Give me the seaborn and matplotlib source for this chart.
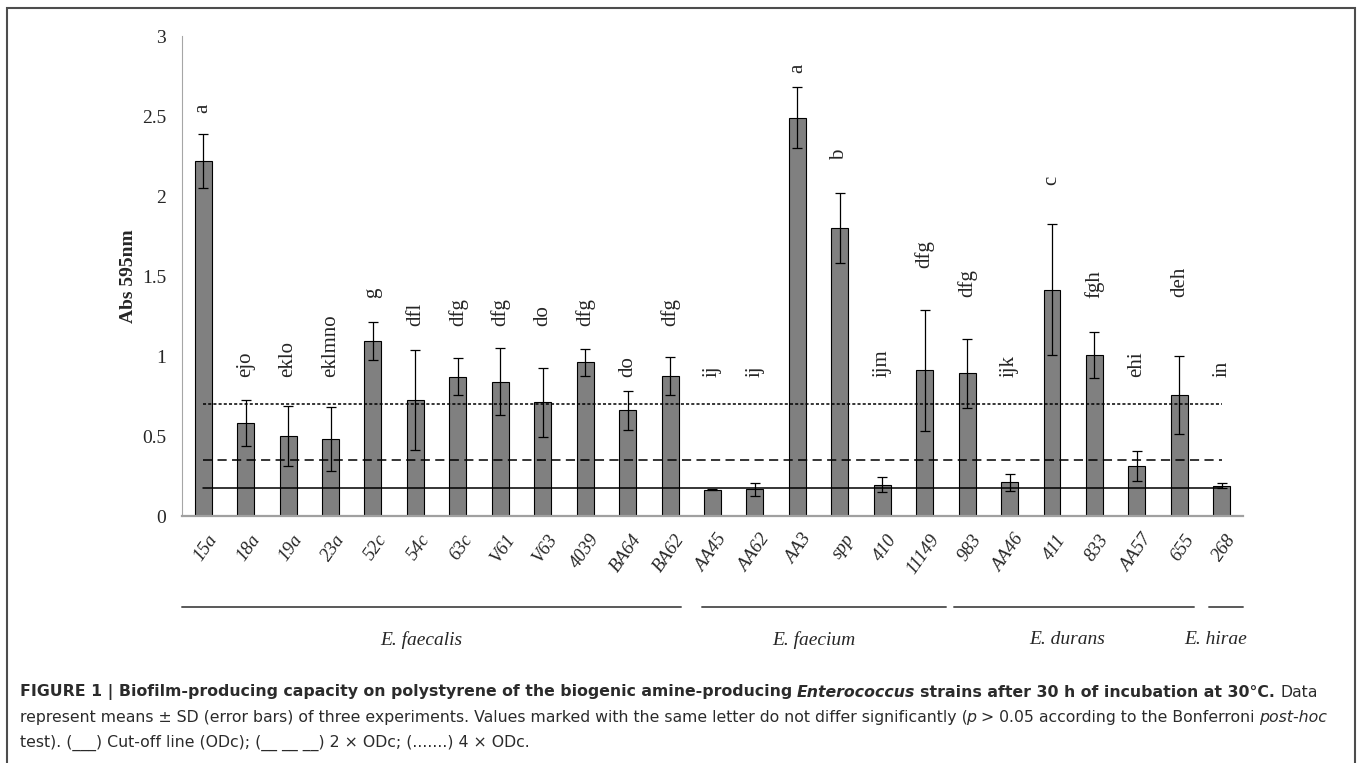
import numpy as np
import pandas as pd
import seaborn as sns
from matplotlib import pyplot as plt
from matplotlib import transforms
from matplotlib.patches import Rectangle

# biofilm absorbance per strain (mean, SD) and the significance letters
strains = ['15a', '18a', '19a', '23a', '52c', '54c', '63c', 'V61', 'V63', '4039', 'BA64', 'BA62',
           'AA45', 'AA62', 'AA3', 'spp', '410', '11149',
           '983', 'AA46', '411', '833', 'AA57', '655', '268']
abs595 = [2.22, 0.58, 0.50, 0.48, 1.095, 0.725, 0.87, 0.84, 0.71, 0.96, 0.66, 0.875,
          0.165, 0.167, 2.49, 1.80, 0.196, 0.91,
          0.893, 0.21, 1.415, 1.005, 0.31, 0.755, 0.19]
sd = [0.17, 0.145, 0.19, 0.20, 0.12, 0.31, 0.115, 0.21, 0.215, 0.085, 0.12, 0.12,
      0.005, 0.04, 0.19, 0.22, 0.046, 0.38,
      0.215, 0.055, 0.41, 0.145, 0.094, 0.245, 0.017]
letters = ['a', 'ejo', 'eklo', 'eklmno', 'g', 'dfl', 'dfg', 'dfg', 'do', 'dfg', 'do', 'dfg',
           'ij', 'ij', 'a', 'b', 'ijm', 'dfg',
           'dfg', 'ijk', 'c', 'fgh', 'ehi', 'deh', 'in']
species = ['E. faecalis', 'E. faecium', 'E. durans', 'E. hirae']
n_per_species = [12, 6, 6, 1]
odc = 0.175  # cut-off OD

# layout of the annotations (where the letters / species brackets sit)
letter_y = [2.52, 0.87, 0.87, 0.87, 1.36, 1.19, 1.19, 1.19, 1.19, 1.19, 0.87, 1.19,
            0.87, 0.87, 2.77, 2.225, 0.87, 1.55,
            1.37, 0.87, 2.07, 1.365, 0.87, 1.37, 0.87]
bracket_spans = [(-0.5, 11.25), (11.75, 17.5), (17.7, 23.35), (23.7, 24.5)]
species_x = [5.15, 14.4, 20.35, 23.85]

if __name__ == '__main__':
    df = pd.DataFrame({'strain': strains, 'abs': abs595, 'sd': sd})

    sns.set_style('white')
    serif = 'Liberation Serif'

    fig = plt.figure(figsize=(13.58, 7.63), dpi=100)
    ax = fig.add_axes([0.1340, 0.3237, 0.7813, 0.6291])

    sns.barplot(data=df, x='strain', y='abs', color='#808080', saturation=1,
                width=0.4, edgecolor='black', linewidth=0.8, errorbar=None, ax=ax, zorder=2)
    pos = np.arange(len(df))
    ax.errorbar(pos, df['abs'], yerr=df['sd'], fmt='none', ecolor='black',
                elinewidth=0.9, capsize=3.5, capthick=0.9, zorder=5)

    # cut-off lines: ODc, 2 x ODc, 4 x ODc
    ax.plot(pos, np.full(len(pos), odc), color='black', lw=1.1, zorder=4)
    ax.plot(pos, np.full(len(pos), 2 * odc), color='black', lw=1.1, dashes=(6, 3.5), zorder=4)
    ax.plot(pos, np.full(len(pos), 4 * odc), color='black', lw=1.1, dashes=(2, 1.4), zorder=4)

    for i, (s, y) in enumerate(zip(letters, letter_y)):
        ax.text(i, y, s, rotation=90, ha='center', va='bottom', fontsize=15, family=serif)

    ax.set_xlim(-0.5, len(strains) - 0.5)
    ax.set_ylim(0, 3)
    ax.set_yticks(np.arange(0, 3.01, 0.5))
    ax.set_yticklabels(['0', '0.5', '1', '1.5', '2', '2.5', '3'], fontsize=14, family=serif)
    ax.tick_params(axis='y', length=0, pad=11.5)
    ax.tick_params(axis='x', length=0, pad=11)
    ax.set_xticks(pos)
    ax.set_xticklabels(strains, rotation=55, ha='right', va='top', rotation_mode='anchor',
                       fontsize=13.5, family=serif, fontstyle='italic')
    shift = transforms.ScaledTranslation(0.04, 0, fig.dpi_scale_trans)
    for lab in ax.get_xticklabels():
        lab.set_transform(lab.get_transform() + shift)

    ax.set_xlabel('')
    ax.set_ylabel('Abs 595nm', fontsize=14, fontweight='bold', family=serif)
    ax.yaxis.set_label_coords(-0.042, 0.5)

    for side in ['top', 'right']:
        ax.spines[side].set_visible(False)
    ax.spines['left'].set_color('#a6a6a6')
    ax.spines['left'].set_linewidth(0.8)
    ax.spines['bottom'].set_color('#a0a0a0')
    ax.spines['bottom'].set_linewidth(1.6)

    # species brackets under the tick labels
    trans = transforms.blended_transform_factory(ax.transData, ax.transAxes)
    for name, (x0, x1), xt in zip(species, bracket_spans, species_x):
        ax.plot([x0, x1], [-0.19, -0.19], color='#595959', lw=1.4, transform=trans, clip_on=False)
        ax.text(xt, -0.258, name, transform=trans, ha='center', va='center',
                fontsize=14, family=serif, fontstyle='italic')

    # outer frame
    fig.add_artist(Rectangle((7 / 1358, -0.05), 1348 / 1358, 0.9895 + 0.05, transform=fig.transFigure,
                             fill=False, edgecolor='#4d4d4d', lw=1.5))

    # caption, pieced together for bold / italic runs
    cap_col = '#2b2b2b'
    cap_size = 11.3
    kinds = {'b': dict(fontweight='bold'), 'bi': dict(fontweight='bold', fontstyle='italic'),
             'r': dict(), 'i': dict(fontstyle='italic')}

    def caption_line(y, pieces):
        txt, kind, _ = pieces[0]
        prev = fig.text(20 / 1358, y, txt, va='bottom', ha='left', color=cap_col,
                        fontsize=cap_size, family='DejaVu Sans', **kinds[kind])
        for txt, kind, gap in pieces[1:]:
            prev = ax.annotate(txt, xy=(1, 0), xycoords=prev, xytext=(gap, 0),
                               textcoords='offset points', va='bottom', ha='left',
                               color=cap_col, fontsize=cap_size, family='DejaVu Sans',
                               annotation_clip=False, **kinds[kind])

    sp = 3.5
    caption_line(0.0826, [
        ('FIGURE 1 | Biofilm-producing capacity on polystyrene of the biogenic amine-producing', 'b', 0),
        ('Enterococcus', 'bi', sp),
        ('strains after 30 h of incubation at 30°C.', 'b', sp),
        ('Data', 'r', sp)])
    caption_line(0.0498, [
        ('represent means ± SD (error bars) of three experiments. Values marked with the same '
         'letter do not differ significantly (', 'r', 0),
        ('p', 'i', -1.5),
        ('> 0.05 according to the Bonferroni', 'r', sp),
        ('post-hoc', 'i', sp)])
    caption_line(0.0157, [
        ('test). (___) Cut-off line (ODc); (__ __ __) 2 × ODc; (.......) 4 × ODc.', 'r', 0)])

    plt.savefig('out.png', dpi=100)
